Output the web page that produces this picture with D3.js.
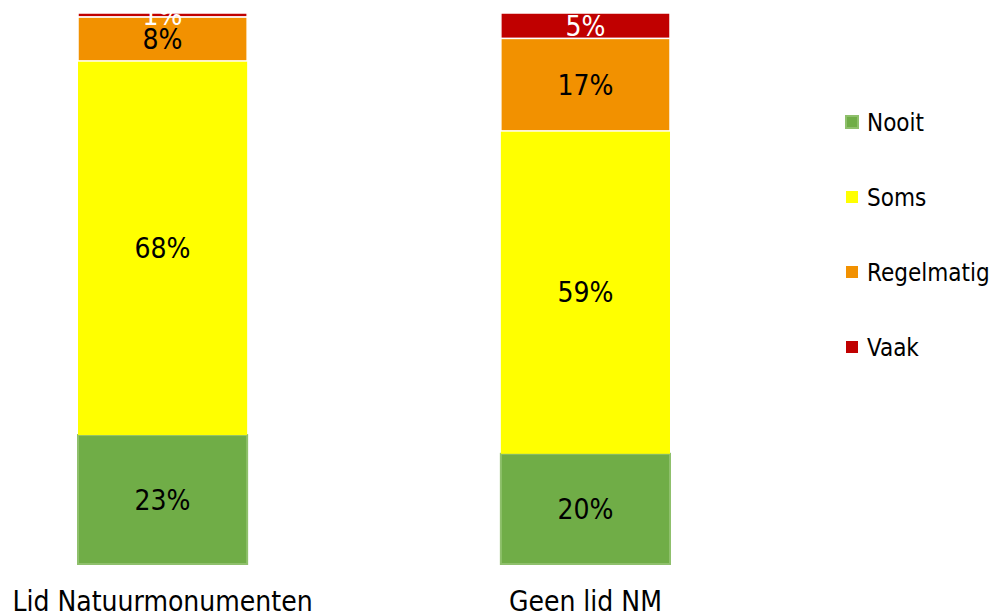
<!DOCTYPE html>
<html>
<head>
<meta charset="utf-8">
<script src="https://cdn.jsdelivr.net/npm/d3@7"></script>
<style>
  body { margin: 0; background: #fff; }
  text { font-family: "DejaVu Sans Condensed", "DejaVu Sans", sans-serif; }
</style>
</head>
<body>
<svg id="chart" width="995" height="615"></svg>
<script>
// groups and answer categories
const categories = ["Lid Natuurmonumenten", "Geen lid NM"];
const seriesNames = ["Nooit", "Soms", "Regelmatig", "Vaak"];
const seriesColors = ["#70AD47", "#FFFF00", "#F29100", "#C00000"];

// percentages per group
const nooit      = [23.4, 20.0];
const soms       = [67.9, 58.6];
const regelmatig = [8.0, 16.8];
const vaak       = [0.7, 4.6];

const svg = d3.select("#chart");

let rows = categories.map((c, i) => ({
    cat: c,
    Nooit: nooit[i],
    Soms: soms[i],
    Regelmatig: regelmatig[i],
    Vaak: vaak[i]
}));

let stack = d3.stack().keys(seriesNames)(rows);

let x = d3.scaleBand()
    .domain(categories)
    .range([78, 670])
    .paddingInner(0.6)
    .paddingOuter(0);

let y = d3.scaleLinear()
    .domain([0, 100])
    .range([564, 13]);

let labelColor = ["#000", "#000", "#000", "#fff"];
let strokeColor = ["#8fc06c", "none", "#fff", "#fff"];

stack.forEach((layer, k) => {
    let g = svg.append("g");

    g.selectAll("rect")
        .data(layer)
        .join("rect")
        .attr("x", d => x(d.data.cat))
        .attr("width", x.bandwidth())
        .attr("y", d => y(d[1]))
        .attr("height", d => y(d[0]) - y(d[1]))
        .style("fill", seriesColors[k])
        .style("stroke", strokeColor[k])
        .style("stroke-width", k == 0 ? 2 : 1.5);
});

// value labels on top of all bars
stack.forEach((layer, k) => {
    svg.append("g")
        .selectAll("text")
        .data(layer)
        .join("text")
        .attr("x", d => x(d.data.cat) + x.bandwidth() / 2)
        .attr("y", d => (y(d[0]) + y(d[1])) / 2 + 10)
        .attr("text-anchor", "middle")
        .style("font-size", "28px")
        .style("fill", labelColor[k])
        .text(d => Math.round(d[1] - d[0]) + "%");
});

// category labels
svg.append("g")
    .selectAll("text")
    .data(categories)
    .join("text")
    .attr("x", d => x(d) + x.bandwidth() / 2)
    .attr("y", 611)
    .attr("text-anchor", "middle")
    .style("font-size", "28px")
    .style("fill", "#000")
    .text(d => d);

// legend
let legend = svg.append("g")
    .selectAll("g")
    .data(seriesNames)
    .join("g")
    .attr("transform", (d, i) => `translate(846, ${116 + i * 75})`);

legend.append("rect")
    .attr("width", 12)
    .attr("height", 12)
    .style("fill", (d, i) => seriesColors[i])
    .style("stroke", (d, i) => i == 0 ? "#8fc06c" : "none")
    .style("stroke-width", 2);

legend.append("text")
    .attr("x", 21)
    .attr("y", 15)
    .style("font-size", "24px")
    .style("fill", "#000")
    .text(d => d);
</script>
</body>
</html>
